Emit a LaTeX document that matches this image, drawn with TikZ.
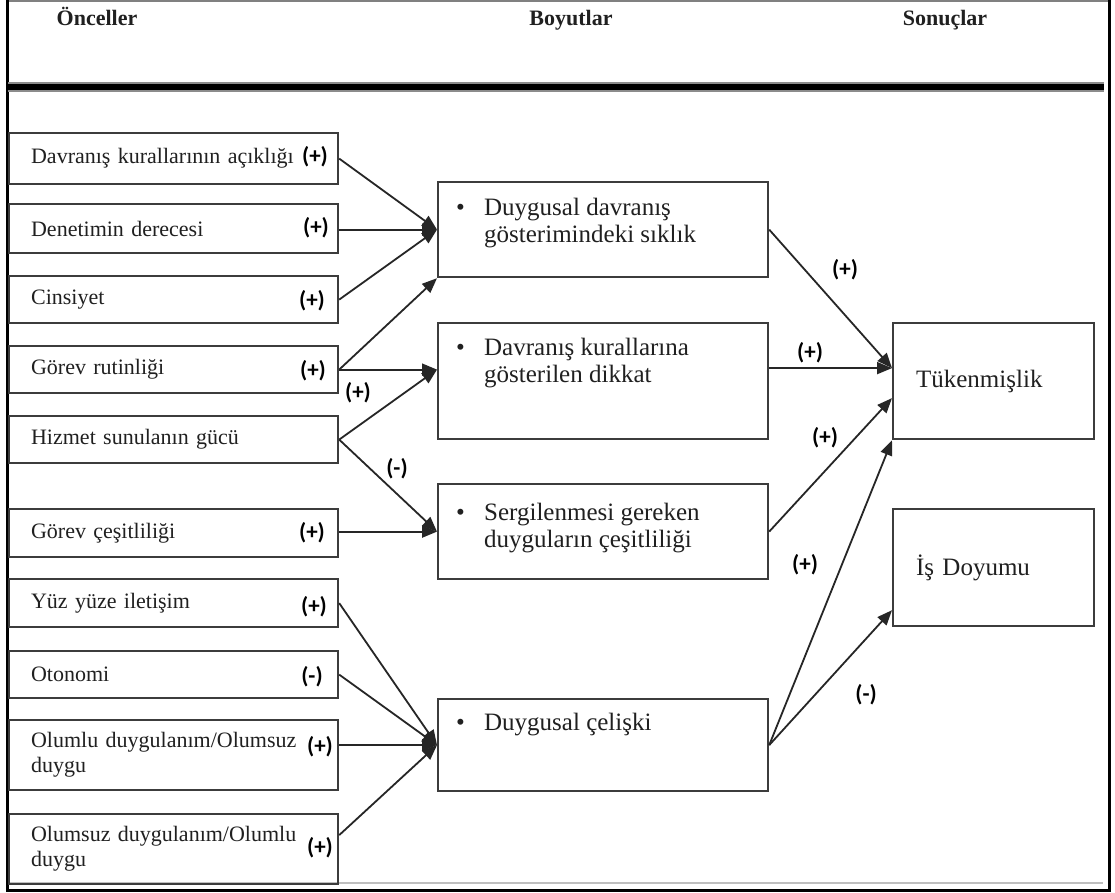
\documentclass[tikz,border=0pt]{standalone}
\usepackage{fontspec}
\setmainfont{Liberation Serif}
\newfontfamily\signfont{Carlito}
\usetikzlibrary{arrows.meta}
\definecolor{boxc}{HTML}{3C3C3C}
\definecolor{linec}{HTML}{262626}
\definecolor{txtc}{HTML}{202020}
\begin{document}
\begin{tikzpicture}[x=1pt,y=-1pt,
 lbox/.style={draw=boxc, line width=2.2pt, text width=285pt, inner xsep=22pt, inner ysep=0pt, align=left, font=\fontsize{22}{25}\selectfont, text=txtc, anchor=north west},
 mbox/.style={draw=boxc, line width=2.2pt, minimum width=330pt, inner sep=0pt, anchor=north west},
 rbox/.style={draw=boxc, line width=2.2pt, text width=155pt, inner xsep=23pt, inner ysep=0pt, align=left, font=\fontsize{25}{27}\selectfont, text=txtc, anchor=north west},
 mtext/.style={font=\fontsize{25}{27}\selectfont, text=txtc, anchor=base west, align=left, inner sep=0pt},
 sign/.style={font=\signfont\bfseries\fontsize{23}{23}\selectfont, text=black, inner sep=0pt},
 head/.style={font=\bfseries\fontsize{22}{22}\selectfont, text=txtc, anchor=base, inner sep=0pt},
 conn/.style={draw=linec, line width=1.8pt, -{Triangle[length=15pt,width=12pt]}}
]
\useasboundingbox (0,0) rectangle (1115,892);
\fill[white] (0,0) rectangle (1115,892);
% frame
\draw[gray, line width=1.5pt] (7,1) -- (1108,1);
\draw[black!25, line width=2pt] (8,883) -- (1103,883);
\draw[black, line width=3pt] (7,0) -- (7,890) -- (1109,890) -- (1109,0);
\draw[black!45, line width=10pt] (8,87) -- (1104,87);
\draw[black, line width=6pt] (8,87) -- (1104,87);
% headers
\node[head] (h1) at (97,25) {Önceller};
\node[head] (h2) at (571,25) {Boyutlar};
\node[head] (h3) at (945,25) {Sonuçlar};
% left boxes
\node[lbox, minimum height=51pt] (b1) at (8,132) {Davranış kurallarının açıklığı};
\node[lbox, minimum height=49pt] (b2) at (8,203) {Denetimin derecesi};
\node[lbox, minimum height=47pt] (b3) at (8,275) {Cinsiyet};
\node[lbox, minimum height=47pt] (b4) at (8,345) {Görev rutinliği};
\node[lbox, minimum height=47pt] (b5) at (8,415) {Hizmet sunulanın gücü};
\node[lbox, minimum height=48pt] (b6) at (8,508) {Görev çeşitliliği};
\node[lbox, minimum height=48pt] (b7) at (8,578) {Yüz yüze iletişim};
\node[lbox, minimum height=47pt] (b8) at (8,650) {Otonomi};
\node[lbox, minimum height=70pt] (b9) at (8,719) {Olumlu duygulanım/Olumsuz\\duygu};
\node[lbox, minimum height=70pt] (b10) at (8,813) {Olumsuz duygulanım/Olumlu\\duygu};
% middle boxes
\node[mbox, minimum height=95pt] (m1) at (437,181) {};
\node[mbox, minimum height=116pt] (m2) at (437,322) {};
\node[mbox, minimum height=95pt] (m3) at (437,483) {};
\node[mbox, minimum height=92pt] (m4) at (437,698) {};
\node[mtext] (t1) at (456,242) {\makebox[28pt][l]{•}Duygusal davranış\\\hspace*{28pt}gösterimindeki sıklık};
\node[mtext] (t2) at (456,382) {\makebox[28pt][l]{•}Davranış kurallarına\\\hspace*{28pt}gösterilen dikkat};
\node[mtext] (t3) at (456,547) {\makebox[28pt][l]{•}Sergilenmesi gereken\\\hspace*{28pt}duyguların çeşitliliği};
\node[mtext] (t4) at (456,730) {\makebox[28pt][l]{•}Duygusal çelişki};
% right boxes
\node[rbox, minimum height=116pt] (r1) at (892,322) {Tükenmişlik};
\node[rbox, minimum height=117pt] (r2) at (892,508) {İş Doyumu};
% signs in left boxes
\node[sign] (s1) at (315,157) {(+)};
\node[sign] (s2) at (316,228) {(+)};
\node[sign] (s3) at (312,301) {(+)};
\node[sign] (s4) at (313,371) {(+)};
\node[sign] (s6) at (312,533) {(+)};
\node[sign] (s7) at (314,607) {(+)};
\node[sign] (s8) at (312,677) {(-)};
\node[sign] (s9) at (320,747) {(+)};
\node[sign] (s10) at (320,848) {(+)};
% connector labels
\node[sign] (l1) at (358,393) {(+)};
\node[sign] (l2) at (397,469) {(-)};
\node[sign] (l3) at (845,270) {(+)};
\node[sign] (l4) at (810,353) {(+)};
\node[sign] (l5) at (825,438) {(+)};
\node[sign] (l6) at (805,565) {(+)};
\node[sign] (l7) at (866,695) {(-)};
% helper coordinates
\coordinate (m2in) at (b4.east -| m2.west);
\coordinate (r1a) at ([yshift=13pt]r1.west);
\coordinate (r1c) at ([yshift=-17pt]r1.west);
\coordinate (r2a) at ([yshift=17pt]r2.south west);
\coordinate (b10o) at ([yshift=14pt]b10.east);
% connectors left
\draw[conn] (b1.east) -- (m1.west);
\draw[conn] (b2.east |- m1.west) -- (m1.west);
\draw[conn] (b3.east) -- (m1.west);
\draw[conn] (b4.east) -- (m1.south west);
\draw[conn] (b4.east) -- (m2in);
\draw[conn] (b5.east) -- (m2in);
\draw[conn] (b5.east) -- (m3.west);
\draw[conn] (b6.east |- m3.west) -- (m3.west);
\draw[conn] (b7.east) -- (m4.west);
\draw[conn] (b8.east) -- (m4.west);
\draw[conn] (b9.east |- m4.west) -- (m4.west);
\draw[conn] (b10o) -- (m4.west);
% connectors right
\draw[conn] (m1.east) -- (r1a);
\draw[conn] (m2.east |- r1a) -- (r1a);
\draw[conn] (m3.east) -- (r1c);
\draw[conn] (m4.east) -- (r1.south west);
\draw[conn] (m4.east) -- (r2a);
\end{tikzpicture}
\end{document}
